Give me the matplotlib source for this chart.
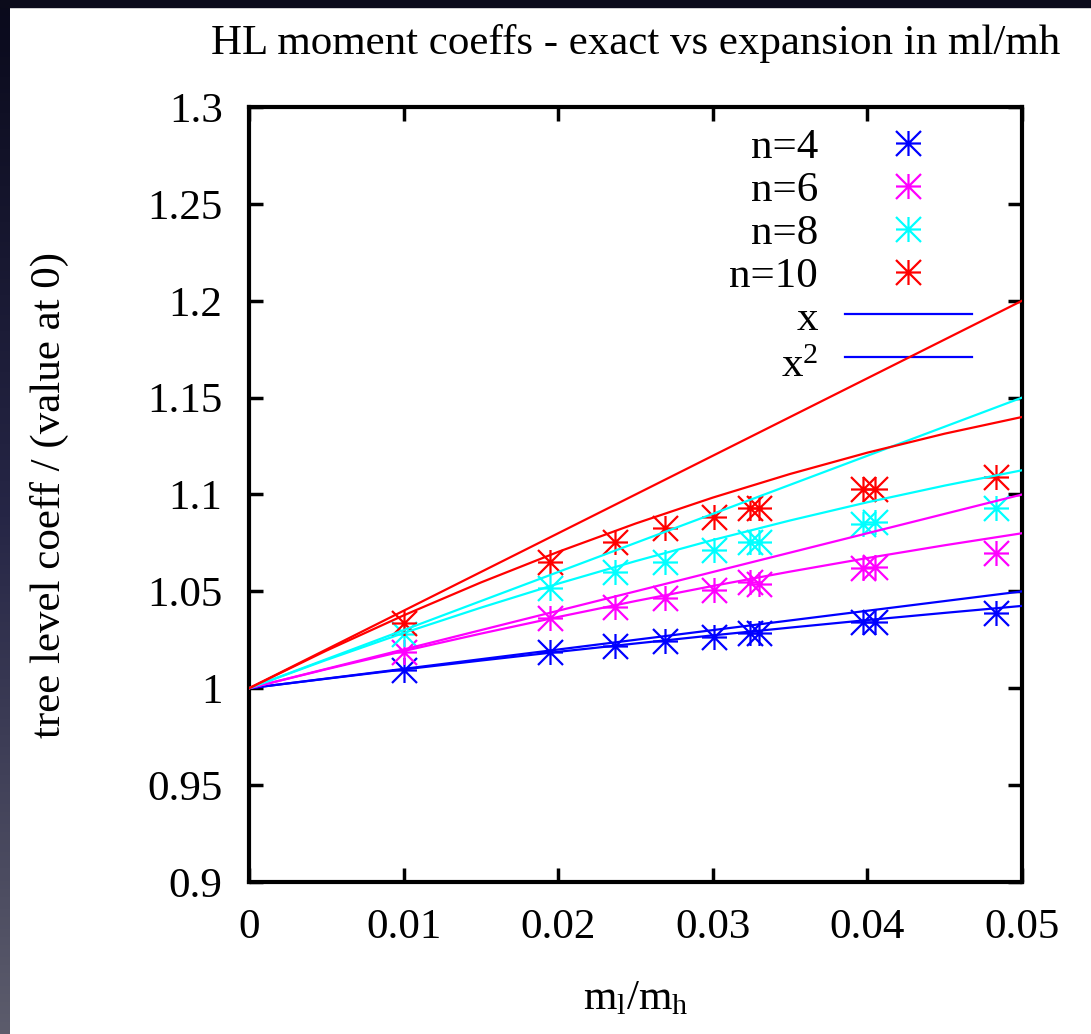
import numpy as np
import matplotlib
matplotlib.use("Agg")
import matplotlib.pyplot as plt
from matplotlib.path import Path
from matplotlib.patches import Rectangle
from matplotlib.colors import LinearSegmentedColormap

plt.rcParams['font.family'] = ['Liberation Serif', 'DejaVu Serif']
plt.rcParams['mathtext.default'] = 'regular'

# ml/mh values where the exact coefficients were computed
x_pts = [0.0100, 0.0195, 0.0237, 0.0269, 0.0301, 0.0324, 0.0330, 0.0397, 0.0405, 0.0483]

# exact tree level coeff / value at 0
n4_exact = [1.0093, 1.0186, 1.0217, 1.0243, 1.0263, 1.0284, 1.0284, 1.0340, 1.0340, 1.0390]
n6_exact = [1.0186, 1.0360, 1.0418, 1.0464, 1.0506, 1.0547, 1.0540, 1.0620, 1.0625, 1.0700]
n8_exact = [1.0280, 1.0516, 1.0600, 1.0650, 1.0712, 1.0754, 1.0754, 1.0850, 1.0857, 1.0930]
n10_exact = [1.0335, 1.0650, 1.0754, 1.0826, 1.0883, 1.0930, 1.0930, 1.1030, 1.1030, 1.1090]

# expansions in ml/mh, first order (x) and second order (x^2)
x_grid = [0.0, 0.005, 0.01, 0.015, 0.02, 0.025, 0.03, 0.035, 0.04, 0.045, 0.05]
n4_x = [1.0, 1.005, 1.010, 1.015, 1.020, 1.025, 1.030, 1.035, 1.040, 1.045, 1.050]
n4_x2 = [1.0, 1.0049, 1.0097, 1.0143, 1.0188, 1.0231, 1.0273, 1.0313, 1.0352, 1.0389, 1.0425]
n6_x = [1.0, 1.010, 1.020, 1.030, 1.040, 1.050, 1.060, 1.070, 1.080, 1.090, 1.100]
n6_x2 = [1.0, 1.0098, 1.0192, 1.0282, 1.0368, 1.0450, 1.0528, 1.0602, 1.0672, 1.0738, 1.0800]
n8_x = [1.0, 1.015, 1.030, 1.045, 1.060, 1.075, 1.090, 1.105, 1.120, 1.135, 1.150]
n8_x2 = [1.0, 1.0146, 1.0285, 1.0416, 1.0540, 1.0656, 1.0765, 1.0866, 1.0960, 1.1046, 1.1125]
n10_x = [1.0, 1.020, 1.040, 1.060, 1.080, 1.100, 1.120, 1.140, 1.160, 1.180, 1.200]
n10_x2 = [1.0, 1.0194, 1.0376, 1.0546, 1.0704, 1.0850, 1.0984, 1.1106, 1.1216, 1.1314, 1.1400]

labels = ['n=4', 'n=6', 'n=8', 'n=10']
colors = ['#0000ff', '#ff00ff', '#00ffff', '#ff0000']

x_ticks = [0, 0.01, 0.02, 0.03, 0.04, 0.05]
x_ticklabels = ['0', '0.01', '0.02', '0.03', '0.04', '0.05']
y_ticks = [0.9, 0.95, 1.0, 1.05, 1.1, 1.15, 1.2, 1.25, 1.3]
y_ticklabels = ['0.9', '0.95', '1', '1.05', '1.1', '1.15', '1.2', '1.25', '1.3']

# gnuplot point type 3: "+" drawn over "x"
star = Path([(-1, 0), (1, 0), (0, -1), (0, 1), (-1, -1), (1, 1), (-1, 1), (1, -1)],
            [Path.MOVETO, Path.LINETO] * 4)

FS = 31

fig = plt.figure(figsize=(10.91, 10.34), dpi=100)
fig.patch.set_facecolor('white')

# dark slide frame along the top and left edges
fig.patches.append(Rectangle((0, 1 - 7 / 1034), 1, 7 / 1034, transform=fig.transFigure,
                             color='#0b0b1b', zorder=0))
edge = fig.add_axes([0, 0, 10 / 1091, 1])
edge_cmap = LinearSegmentedColormap.from_list('edge', ['#0a0a1c', '#262646', '#5c5c6c'])
edge.imshow(np.linspace(0, 1, 256).reshape(-1, 1), cmap=edge_cmap, aspect='auto')
edge.axis('off')

ax = fig.add_axes([249 / 1091, 152 / 1034, 773 / 1091, 775 / 1034])

exact = [n4_exact, n6_exact, n8_exact, n10_exact]
first = [n4_x, n6_x, n8_x, n10_x]
second = [n4_x2, n6_x2, n8_x2, n10_x2]

for ys, c in zip(exact, colors):
    ax.plot(x_pts, ys, linestyle='none', marker=star, markersize=18,
            markeredgewidth=1.6, color=c, zorder=3)
for y1, y2, c in zip(first, second, colors):
    ax.plot(x_grid, y1, color=c, lw=1.6, zorder=4)
    ax.plot(x_grid, y2, color=c, lw=1.6, zorder=4)

ax.set_xlim(0, 0.05)
ax.set_ylim(0.9, 1.3)
ax.set_xticks(x_ticks)
ax.set_xticklabels(x_ticklabels)
ax.set_yticks(y_ticks)
ax.set_yticklabels(y_ticklabels)
ax.tick_params(direction='in', top=True, right=True, length=10, width=2.5,
               labelsize=FS)
ax.tick_params(axis='x', pad=19)
ax.tick_params(axis='y', pad=19)
for s in ax.spines.values():
    s.set_linewidth(3)

ax.set_title('HL moment coeffs - exact vs expansion in ml/mh', fontsize=FS, pad=38)
ax.set_xlabel('m$_l$/m$_h$', fontsize=FS, labelpad=24)
ax.set_ylabel('tree level coeff / (value at 0)', fontsize=FS)
ax.yaxis.set_label_coords(-0.233, 0.5)

# key: label on the left, sample on the right
rows = [0.9535, 0.8981, 0.8426, 0.7871, 0.7329, 0.6774]
tx, mx, lx0, lx1 = 0.7361, 0.8525, 0.771, 0.935
for i, (lab, c) in enumerate(zip(labels, colors)):
    ax.text(tx, rows[i] - 0.0194, lab, transform=ax.transAxes, ha='right',
            va='baseline', fontsize=FS)
    ax.plot([mx], [rows[i]], transform=ax.transAxes, linestyle='none', marker=star,
            markersize=18, markeredgewidth=1.6, color=c, clip_on=False)

ax.text(tx, rows[4] - 0.0206, 'x', transform=ax.transAxes, ha='right',
        va='baseline', fontsize=FS)
ax.text(tx, rows[5] - 0.0258, 'x$^{2}$', transform=ax.transAxes, ha='right',
        va='baseline', fontsize=FS)
for i in (4, 5):
    ax.plot([lx0, lx1], [rows[i], rows[i]], transform=ax.transAxes,
            color=colors[0], lw=1.6, clip_on=False)

fig.savefig('out.png', dpi=100)
